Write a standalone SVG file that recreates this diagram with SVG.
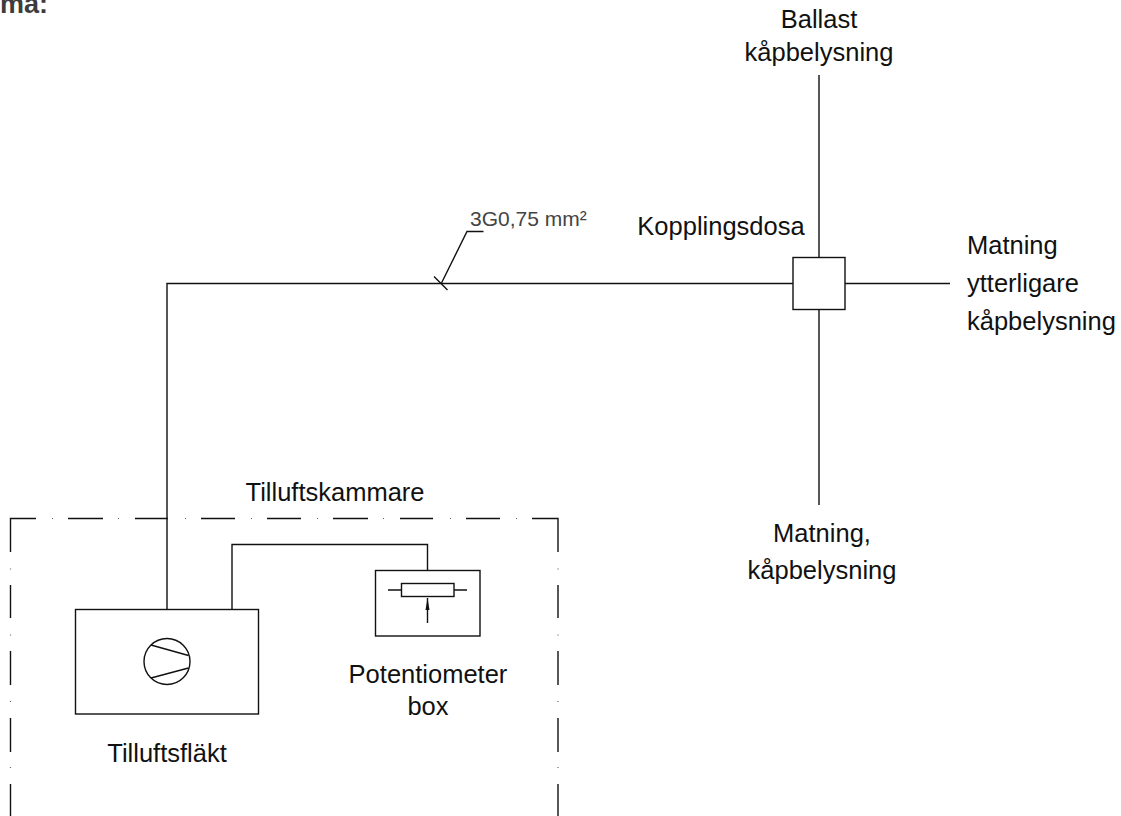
<svg xmlns="http://www.w3.org/2000/svg" width="1121" height="816" viewBox="0 0 1121 816">
<style>
.l{fill:none;stroke:#111;stroke-width:1.4}
.d{fill:none;stroke:#666;stroke-width:1.2}
.b{fill:#fff;stroke:#111;stroke-width:1.4}
text{font-family:"Liberation Sans",Arial,sans-serif;font-size:25.5px;fill:#111;text-anchor:middle}
</style>
<defs><marker id="a" markerWidth="14" markerHeight="8" refX="12" refY="3" orient="auto" markerUnits="userSpaceOnUse" viewBox="0 0 14 6"><path d="M0 1L12 3L0 5z" fill="#111"/></marker></defs>
<rect width="1121" height="816" fill="#fff"/>
<text x="0" y="13" style="text-anchor:start;font-weight:bold;fill:#3c3c3c;font-size:27px">ma:</text>
<g id="connectors">
<path class="l" d="M167 609V283.5H793"/>
<path class="l" d="M232 609V544.500H427.500V570"/>
<path class="l" d="M819 75V257.500M819 309.500V505M845 283.500H950"/>
<path class="l" d="M483.500 231.500H467L441 284M434 276.500L447.500 290"/>
</g>
<g id="tilluftskammare">
<path class="l" d="M10.500 552V518.500H36M68 518.500H103M135 518.500H168M201 518.500H235M267 518.500H301M333 518.500H368M400 518.500H433M466 518.500H500M532 518.500H558V552M10.500 585V618M10.500 651V685M10.500 718V752M10.500 784V816M558 585V618M558 651V685M558 718V752M558 784V816"/>
<path class="d" d="M52 518.500h1M118 518.500h1M185 518.500h1M251 518.500h1M317 518.500h1M383 518.500h1M450 518.500h1M516 518.500h1M10.500 568.500v1M10.500 634.500v1M10.500 701v1M10.500 767v1M558 568.500v1M558 634.500v1M558 701v1M558 767v1"/>
<text x="335" y="501">Tilluftskammare</text>
</g>
<g id="tilluftsflakt">
<rect class="b" x="75.500" y="609.500" width="183" height="104.500"/>
<circle class="b" cx="167" cy="661.500" r="23"/>
<path class="l" d="M151 645L188.500 655.500M151 678L188.500 668"/>
<text x="167" y="761.500">Tilluftsfläkt</text>
</g>
<g id="potentiometer">
<rect class="b" x="375.500" y="570.500" width="104.500" height="65.500"/>
<rect class="b" x="401.500" y="583.500" width="52.500" height="13"/>
<path class="l" d="M388 590H401.500M454 590H467"/>
<path class="l" d="M427.500 623V598" marker-end="url(#a)"/>
<text x="428" y="683">Potentiometer</text>
<text x="428" y="714.500">box</text>
</g>
<g id="kopplingsdosa">
<rect class="b" x="793" y="257.500" width="52" height="52"/>
<text x="721" y="235">Kopplingsdosa</text>
</g>
<g id="labels">
<text x="819" y="27.500">Ballast</text>
<text x="819" y="61">kåpbelysning</text>
<text x="967" y="254" style="text-anchor:start">Matning</text>
<text x="967" y="292" style="text-anchor:start">ytterligare</text>
<text x="967" y="330" style="text-anchor:start">kåpbelysning</text>
<text x="822" y="542">Matning,</text>
<text x="822" y="579">kåpbelysning</text>
<text x="470" y="226" style="text-anchor:start;font-size:21px;fill:#444">3G0,75 mm²</text>
</g>
</svg>
